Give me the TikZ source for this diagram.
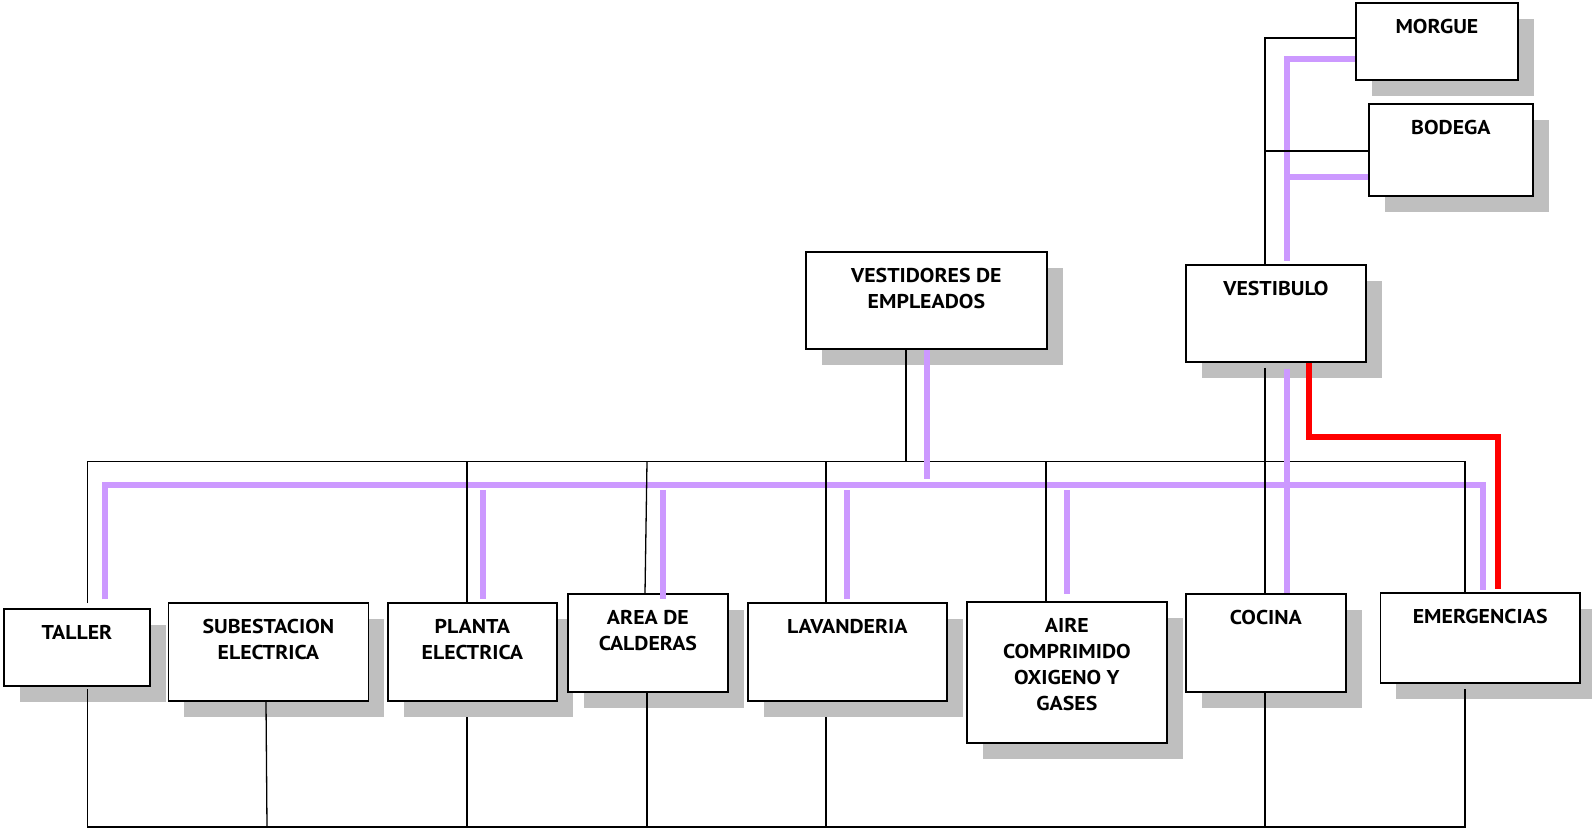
\documentclass[tikz,border=0pt]{standalone}
\usepackage{fontspec}
\setmainfont{PT Sans}[FakeStretch=1.09]
\usetikzlibrary{shadows}
\pgfdeclarelayer{background}
\pgfsetlayers{background,main}
\definecolor{lilac}{HTML}{CC99FF}
\definecolor{shade}{HTML}{BFBFBF}

% room caption: top-aligned, centred text inside a box of given width/height
\newcommand{\roomtext}[3]{\parbox[t][#2pt][t]{#1pt}{\centering\fontsize{20}{26}\selectfont\bfseries\rule{0pt}{31pt}#3}}

\tikzset{
  room/.style={draw, line width=1.8pt, fill=white, inner sep=0pt, anchor=north west,
    drop shadow={shadow xshift=16pt, shadow yshift=-16pt, fill=shade, opacity=1}},
  wire/.style={draw=black, line width=1.3pt},
  pipe/.style={draw=lilac, line width=6.7pt},
  hotpipe/.style={draw=red, line width=6pt},
}

\begin{document}
\begin{tikzpicture}[x=1pt, y=-1pt]
\useasboundingbox (0,0) rectangle (1592,830);

% rooms
\node[room] (morgue)     at (1355,2)   {\roomtext{162}{77}{MORGUE}};
\node[room] (bodega)     at (1368,103) {\roomtext{164}{92}{BODEGA}};
\node[room] (vestidores) at (805,251)  {\roomtext{241}{97}{VESTIDORES DE\\EMPLEADOS}};
\node[room] (vestibulo)  at (1185,264) {\roomtext{180}{97}{VESTIBULO}};
\node[room] (taller)     at (3,608)    {\roomtext{146}{77}{TALLER}};
\node[room] (subest)     at (167.5,602){\roomtext{200}{98}{SUBESTACION\\ELECTRICA}};
\node[room] (planta)     at (387,602)  {\roomtext{169}{98}{PLANTA\\ELECTRICA}};
\node[room] (calderas)   at (567,593)  {\roomtext{160}{98}{AREA DE\\CALDERAS}};
\node[room] (lavanderia) at (747,602)  {\roomtext{199}{98}{LAVANDERIA}};
\node[room] (aire)       at (966,601)  {\roomtext{200}{141}{AIRE\\COMPRIMIDO\\OXIGENO Y\\GASES}};
\node[room] (cocina)     at (1185,593) {\roomtext{160}{98}{COCINA}};
\node[room] (emerg)      at (1379.5,592){\roomtext{199.5}{90}{EMERGENCIAS}};

% bus levels
\coordinate (busK) at (0,461.5);
\coordinate (busP) at (0,485);
\coordinate (busB) at (0,827);

% lower wires hidden behind the shadows
\begin{pgfonlayer}{background}
  \draw[wire] (467,0 |- planta.south) -- (467,0 |- busB);
  \draw[wire] (826,0 |- lavanderia.south) -- (826,0 |- busB);
\end{pgfonlayer}

% lilac main run
\draw[pipe, shorten <=9pt, shorten >=2pt] (105,0 |- taller.north) -- (105,0 |- busP)
  -- (1483,0 |- busP) -- (1483,0 |- emerg.north);
\draw[pipe] (morgue.west |- 0,59) -- (1287,59) -- (1287,261);
\draw[pipe] (bodega.west |- 0,177) -- (1287,177);

% black wiring, upper part
\draw[wire] (morgue.west |- 0,38) -- (1265,38) -- (1265,0 |- vestibulo.north);
\draw[wire] (bodega.west |- 0,151) -- (1265,151);
\draw[wire] (906,0 |- vestidores.south) -- (906,0 |- busK);
\draw[wire, shorten <=5pt] (87.5,0 |- taller.north) -- (87.5,0 |- busK)
  -- (1465,0 |- busK) -- (1465,0 |- emerg.north);
\draw[wire] (467,0 |- busK) -- (467,0 |- planta.north);
\draw[wire] (647,0 |- busK) -- (645,0 |- calderas.north);
\draw[wire] (826,0 |- busK) -- (826,0 |- lavanderia.north);
\draw[wire] (1046,0 |- busK) -- (1046,0 |- aire.north);
\draw[wire, shorten <=5pt] (1265,0 |- vestibulo.south) -- (1265,0 |- cocina.north);

% black wiring, lower part
\draw[wire, shorten <=2pt, shorten >=5pt] (87.5,0 |- taller.south) -- (87.5,0 |- busB)
  -- (1465,0 |- busB) -- (1465,0 |- emerg.south);
\draw[wire] (266,0 |- subest.south) -- (267,0 |- busB);
\draw[wire] (647,0 |- calderas.south) -- (647,0 |- busB);
\draw[wire] (1265,0 |- cocina.south) -- (1265,0 |- busB);

% lilac drops
\draw[pipe] (927,0 |- vestidores.south) -- (927,479);
\draw[pipe, shorten >=3pt] (483,490) -- (483,0 |- planta.north);
\draw[pipe] (663,490) -- (663,599);
\draw[pipe, shorten >=3pt] (847,490) -- (847,0 |- lavanderia.north);
\draw[pipe, shorten >=7pt] (1067,490) -- (1067,0 |- aire.north);
\draw[pipe, shorten <=6pt] (1287,0 |- vestibulo.south) -- (1287,0 |- cocina.north);

% red line from the vestibule to emergencies
\draw[hotpipe, shorten >=3pt] (1309,0 |- vestibulo.south) -- (1309,437) -- (1498,437)
  -- (1498,0 |- emerg.north);
\end{tikzpicture}
\end{document}
